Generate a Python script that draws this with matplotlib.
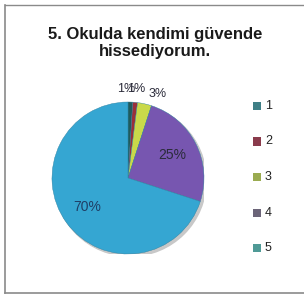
import matplotlib
matplotlib.use("Agg")
import matplotlib.pyplot as plt
from matplotlib.lines import Line2D
import numpy as np

categories = ["1", "2", "3", "4", "5"]
values = [1, 1, 3, 25, 70]
pct_labels = ["1%", "1%", "3%", "25%", "70%"]
title = "5. Okulda kendimi güvende\nhissediyorum."

colors = ["#1f5c5c", "#9b2f3a", "#c9d94a", "#7756b0", "#35a6d2"]
legend_colors = ["#3f7f86", "#8a3b4c", "#9aab50", "#6b6478", "#4f9a96"]

W, H = 304, 296
fig = plt.figure(figsize=(W / 100, H / 100), dpi=100)
fig.patch.set_facecolor("white")

# frame
fig.add_artist(Line2D([5 / W, 5 / W], [3 / H, 291 / H], color="#8a8a8a", lw=1.2))
fig.add_artist(Line2D([5 / W, 1], [3 / H, 3 / H], color="#8a8a8a", lw=1.2))
fig.add_artist(Line2D([5 / W, 1], [291 / H, 291 / H], color="#8a8a8a", lw=1.0))

fig.text(155 / W, 1 - 43 / H, title, ha="center", va="center",
         fontsize=12, fontweight="bold", family="Liberation Sans",
         color="#1a1a1a", linespacing=1.2)

cx, cy, r = 128, 178, 76
ax = fig.add_axes([(cx - r) / W, (H - cy - r) / H, 2 * r / W, 2 * r / H])
# soft shadow under the pie
ax.add_patch(plt.Circle((0.03, -0.03), 1.0, color="#c8c8c8", zorder=0))
wedges, texts = ax.pie(values, colors=colors, startangle=90, counterclock=False,
                       radius=1.0, wedgeprops=dict(edgecolor="#2a7fa0", linewidth=0.3))
ax.set_xlim(-1, 1)
ax.set_ylim(-1, 1)
ax.set_aspect("equal")
ax.axis("off")

# percentage labels (small ones sit outside, like Excel's best fit)
start = 90.0
total = sum(values)
for i, (v, lab) in enumerate(zip(values, pct_labels)):
    span = 360.0 * v / total
    mid = start - span / 2
    start -= span
    if v < 5:
        d, fs = 1.17, 9
        if i == 0:
            mid += 3
        if i == 2:
            mid -= 7
    else:
        d, fs = 0.66, 10
    a = np.deg2rad(mid)
    col = "#2b2b3a" if v != 70 else "#1f3f66"
    ax.text(d * np.cos(a), d * np.sin(a), lab, ha="center", va="center",
            fontsize=fs, family="Liberation Sans", color=col, clip_on=False)

# legend
y0, step = 106, 35.5
for i, (c, lab) in enumerate(zip(legend_colors, categories)):
    y = y0 + i * step
    fig.patches.append(plt.Rectangle((253 / W, 1 - (y + 4) / H), 8 / W, 8 / H,
                                     transform=fig.transFigure, facecolor=c,
                                     edgecolor="none"))
    fig.text(265 / W, 1 - y / H, lab, ha="left", va="center", fontsize=9,
             family="Liberation Sans", color="#222222")

fig.savefig("out.png", dpi=100)
